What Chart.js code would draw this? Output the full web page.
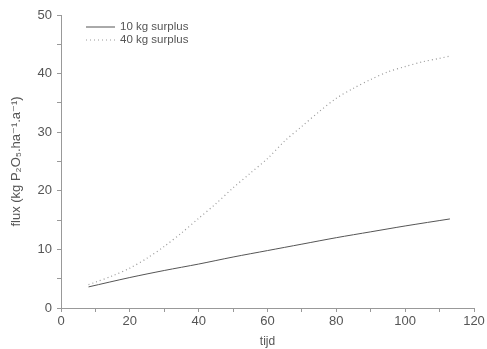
<!DOCTYPE html>
<html>
<head>
<meta charset="utf-8">
<script src="https://cdn.jsdelivr.net/npm/chart.js@4.4.0/dist/chart.umd.min.js"></script>
<style>
  html, body { margin: 0; padding: 0; background: #fff; }
  #wrap { width: 487px; height: 349px; }
</style>
</head>
<body>
<div id="wrap"><canvas id="myChart" width="487" height="349"></canvas></div>
<script>
// Data
const seriesNames = ['10 kg surplus', '40 kg surplus'];
const tijd10 = [8, 20, 30, 40, 50, 60, 70, 80, 90, 100, 113];
const flux10 = [3.6, 5.2, 6.4, 7.5, 8.7, 9.8, 10.9, 12.0, 13.0, 14.0, 15.2];
const tijd40 = [8, 10, 15, 20, 25, 30, 35, 40, 45, 50, 55, 60, 65, 70, 75, 80, 85, 90, 95, 100, 105, 110, 113];
const flux40 = [4.0, 4.4, 5.5, 6.8, 8.5, 10.5, 12.8, 15.3, 17.8, 20.5, 23.0, 25.5, 28.5, 31.0, 33.5, 35.8, 37.5, 39.0, 40.3, 41.2, 42.0, 42.6, 43.0];
const xTitle = 'tijd';
const yTitle = 'flux (kg P₂O₅.ha⁻¹.a⁻¹)';

const font = "'Liberation Sans', 'DejaVu Sans', Arial, sans-serif";
const textColor = '#555';
const axisColor = '#999';

function pts(xs, ys) {
  return xs.map(function (x, i) { return { x: x, y: ys[i] }; });
}

// legend drawn inside the plot, top left
const insideLegend = {
  id: 'insideLegend',
  afterDraw: function (chart) {
    const ctx = chart.ctx;
    ctx.save();
    ctx.font = '11.5px ' + font;
    ctx.textBaseline = 'middle';
    chart.data.datasets.forEach(function (ds, i) {
      const y = 27 + i * 13;
      ctx.beginPath();
      ctx.strokeStyle = ds.borderColor;
      ctx.lineWidth = 1;
      ctx.setLineDash(ds.borderDash || []);
      ctx.moveTo(86, y);
      ctx.lineTo(115, y);
      ctx.stroke();
      ctx.setLineDash([]);
      ctx.fillStyle = textColor;
      ctx.fillText(ds.label, 120, y);
    });
    ctx.restore();
  }
};

const config = {
  type: 'line',
  data: {
    datasets: [
      {
        label: seriesNames[0],
        data: pts(tijd10, flux10),
        borderColor: '#555',
        borderWidth: 1,
        pointRadius: 0,
        tension: 0.3
      },
      {
        label: seriesNames[1],
        data: pts(tijd40, flux40),
        borderColor: '#999',
        borderWidth: 1.2,
        borderDash: [1, 3],
        pointRadius: 0,
        tension: 0.3
      }
    ]
  },
  options: {
    responsive: false,
    animation: false,
    layout: { padding: { top: 15, right: 13, left: 0, bottom: 0 } },
    plugins: {
      legend: { display: false },
      tooltip: { enabled: false }
    },
    scales: {
      x: {
        type: 'linear',
        min: 0,
        max: 120,
        ticks: {
          stepSize: 10,
          autoSkip: false,
          maxRotation: 0,
          padding: 2,
          color: textColor,
          font: { family: font, size: 13 },
          callback: function (v) { return v % 20 === 0 ? v : ''; }
        },
        grid: { drawOnChartArea: false, tickLength: 4, color: axisColor },
        border: { color: axisColor },
        title: { display: true, text: xTitle, color: textColor, font: { family: font, size: 12 }, padding: { top: 0, bottom: 0 } },
        afterFit: function (s) { s.height = 41; }
      },
      y: {
        min: 0,
        max: 50,
        ticks: {
          stepSize: 5,
          autoSkip: false,
          padding: 5,
          color: textColor,
          font: { family: font, size: 13 },
          callback: function (v) { return v % 10 === 0 ? v : ''; }
        },
        grid: { drawOnChartArea: false, tickLength: 4, color: axisColor },
        border: { color: axisColor },
        title: { display: true, text: yTitle, color: textColor, font: { family: font, size: 13 }, padding: { top: 9, bottom: 4 } },
        afterFit: function (s) { s.width = 61; }
      }
    }
  },
  plugins: [insideLegend]
};

var myChart = new Chart(document.getElementById('myChart'), config);
</script>
</body>
</html>
